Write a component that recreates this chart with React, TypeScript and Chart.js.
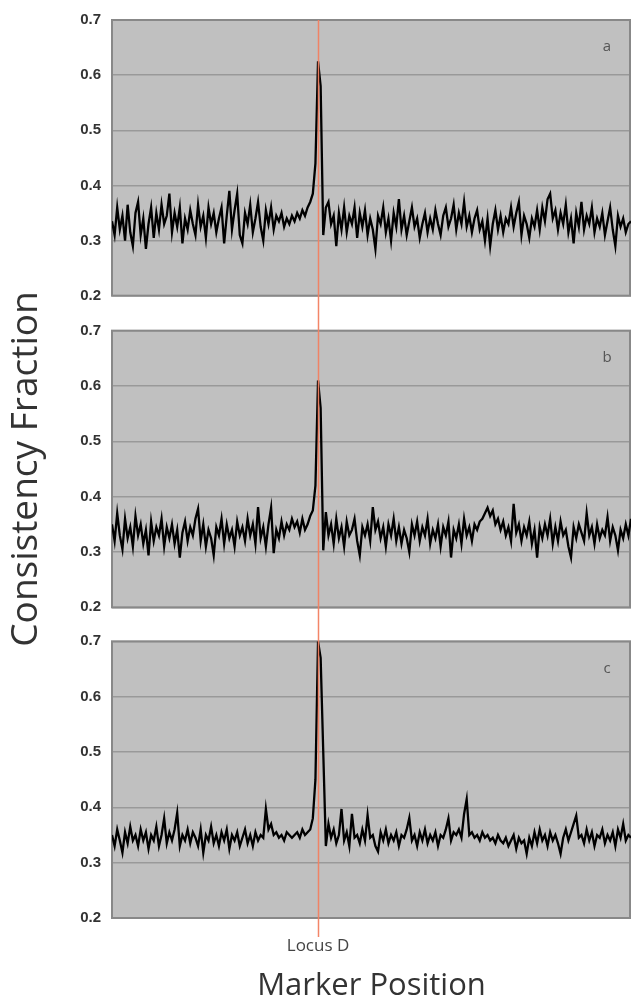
import React, { useEffect, useRef } from "react";
import { Chart, registerables } from "chart.js";

Chart.register(...registerables);

// ---- data -------------------------------------------------------------
const markerPositions: number[] = Array.from({ length: 200 }, (_, i) => i);
const locusIndex = 79;
const locusLabel = "Locus D";
const panelLetters = ["a", "b", "c"];
const yTickStep = 0.1;
const yMin = 0.2;
const yMax = 0.7;

const seriesA: number[] = [
  0.335, 0.31, 0.36, 0.32, 0.345, 0.30, 0.365, 0.315, 0.29, 0.35,
  0.37, 0.31, 0.34, 0.285, 0.33, 0.36, 0.305, 0.35, 0.32, 0.365,
  0.33, 0.345, 0.385, 0.315, 0.35, 0.325, 0.36, 0.295, 0.34, 0.32,
  0.355, 0.33, 0.31, 0.365, 0.325, 0.345, 0.305, 0.36, 0.33, 0.35,
  0.315, 0.34, 0.36, 0.295, 0.345, 0.39, 0.32, 0.355, 0.385, 0.31,
  0.295, 0.35, 0.33, 0.365, 0.315, 0.34, 0.37, 0.325, 0.30, 0.355,
  0.33, 0.36, 0.32, 0.345, 0.335, 0.35, 0.325, 0.34, 0.33, 0.345,
  0.335, 0.35, 0.34, 0.355, 0.345, 0.36, 0.37, 0.385, 0.44, 0.625,
  0.58, 0.31, 0.36, 0.37, 0.33, 0.345, 0.29, 0.35, 0.32, 0.36,
  0.315, 0.345, 0.33, 0.36, 0.305, 0.35, 0.325, 0.355, 0.31, 0.34,
  0.32, 0.285, 0.345, 0.33, 0.36, 0.315, 0.34, 0.30, 0.35, 0.325,
  0.375, 0.32, 0.345, 0.31, 0.335, 0.36, 0.325, 0.34, 0.305, 0.33,
  0.35, 0.315, 0.34, 0.32, 0.355, 0.33, 0.31, 0.345, 0.36, 0.325,
  0.34, 0.365, 0.32, 0.35, 0.33, 0.37, 0.325, 0.345, 0.315, 0.34,
  0.355, 0.32, 0.335, 0.30, 0.34, 0.29, 0.33, 0.355, 0.32, 0.345,
  0.315, 0.34, 0.33, 0.36, 0.325, 0.35, 0.37, 0.31, 0.345, 0.33,
  0.305, 0.34, 0.325, 0.355, 0.32, 0.36, 0.335, 0.375, 0.385, 0.34,
  0.355, 0.32, 0.35, 0.33, 0.365, 0.315, 0.34, 0.295, 0.35, 0.325,
  0.37, 0.32, 0.345, 0.33, 0.36, 0.315, 0.34, 0.325, 0.35, 0.31,
  0.335, 0.36, 0.32, 0.29, 0.345, 0.325, 0.34, 0.315, 0.33, 0.335,
];

const seriesB: number[] = [
  0.35, 0.32, 0.37, 0.33, 0.305, 0.36, 0.325, 0.345, 0.31, 0.365,
  0.33, 0.35, 0.315, 0.34, 0.294, 0.355, 0.32, 0.345, 0.33, 0.36,
  0.31, 0.345, 0.325, 0.35, 0.315, 0.34, 0.29, 0.335, 0.355, 0.32,
  0.345, 0.33, 0.36, 0.378, 0.32, 0.35, 0.31, 0.34, 0.325, 0.294,
  0.345, 0.33, 0.36, 0.315, 0.35, 0.325, 0.34, 0.31, 0.355, 0.33,
  0.345, 0.32, 0.36, 0.33, 0.35, 0.315, 0.381, 0.325, 0.345, 0.31,
  0.35, 0.38, 0.298, 0.34, 0.325, 0.355, 0.33, 0.35, 0.34, 0.36,
  0.345, 0.355, 0.335, 0.36, 0.34, 0.35, 0.365, 0.375, 0.42, 0.61,
  0.56, 0.303, 0.372, 0.33, 0.35, 0.315, 0.36, 0.325, 0.345, 0.31,
  0.355, 0.33, 0.34, 0.36, 0.32, 0.294, 0.345, 0.33, 0.35, 0.32,
  0.381, 0.34, 0.355, 0.325, 0.345, 0.31, 0.35, 0.33, 0.36, 0.32,
  0.345, 0.315, 0.34, 0.325, 0.30, 0.35, 0.33, 0.355, 0.32, 0.345,
  0.33, 0.36, 0.315, 0.34, 0.325, 0.35, 0.31, 0.345, 0.33, 0.355,
  0.29, 0.34, 0.325, 0.35, 0.315, 0.36, 0.33, 0.345, 0.32, 0.35,
  0.34, 0.355, 0.36, 0.37, 0.38, 0.365, 0.375, 0.35, 0.36, 0.34,
  0.355, 0.33, 0.345, 0.32, 0.387, 0.335, 0.35, 0.32, 0.345, 0.33,
  0.355, 0.315, 0.34, 0.29, 0.345, 0.325, 0.35, 0.33, 0.36, 0.315,
  0.345, 0.32, 0.355, 0.33, 0.34, 0.31, 0.29, 0.345, 0.325, 0.35,
  0.335, 0.32, 0.37, 0.33, 0.345, 0.315, 0.35, 0.325, 0.34, 0.33,
  0.363, 0.32, 0.345, 0.33, 0.303, 0.34, 0.325, 0.35, 0.33, 0.36,
];

const seriesC: number[] = [
  0.35, 0.33, 0.36, 0.34, 0.318, 0.355, 0.335, 0.365, 0.34, 0.35,
  0.33, 0.36, 0.34, 0.355, 0.325, 0.35, 0.34, 0.365, 0.33, 0.35,
  0.38, 0.335, 0.355, 0.34, 0.36, 0.39, 0.33, 0.35, 0.34, 0.36,
  0.335, 0.355, 0.345, 0.33, 0.36, 0.318, 0.35, 0.34, 0.365, 0.335,
  0.35, 0.33, 0.355, 0.34, 0.36, 0.325, 0.35, 0.34, 0.355, 0.33,
  0.345, 0.36, 0.335, 0.35, 0.33, 0.355, 0.34, 0.35, 0.345, 0.397,
  0.36, 0.37, 0.35, 0.355, 0.345, 0.35, 0.34, 0.355, 0.35, 0.345,
  0.35, 0.355, 0.345, 0.36, 0.35, 0.355, 0.36, 0.38, 0.45, 0.70,
  0.67, 0.50, 0.33, 0.37, 0.345, 0.36, 0.335, 0.35, 0.397, 0.34,
  0.355, 0.33, 0.388, 0.345, 0.35, 0.335, 0.36, 0.34, 0.386, 0.345,
  0.35, 0.33, 0.32, 0.355, 0.34, 0.36, 0.335, 0.35, 0.34, 0.355,
  0.33, 0.35, 0.345, 0.36, 0.381, 0.34, 0.35, 0.33, 0.355, 0.34,
  0.36, 0.335, 0.35, 0.34, 0.355, 0.33, 0.35, 0.345, 0.36, 0.38,
  0.34, 0.355, 0.35, 0.36, 0.345, 0.388, 0.415, 0.35, 0.355, 0.345,
  0.35, 0.34, 0.355, 0.345, 0.35, 0.34, 0.345, 0.335, 0.35, 0.34,
  0.335, 0.345, 0.33, 0.34, 0.35, 0.325, 0.345, 0.335, 0.34, 0.316,
  0.345, 0.33, 0.355, 0.335, 0.36, 0.34, 0.35, 0.33, 0.355, 0.34,
  0.35, 0.335, 0.316, 0.345, 0.36, 0.34, 0.355, 0.37, 0.385, 0.345,
  0.35, 0.335, 0.36, 0.34, 0.355, 0.33, 0.35, 0.345, 0.36, 0.335,
  0.35, 0.34, 0.355, 0.33, 0.36, 0.345, 0.37, 0.34, 0.35, 0.345,
];

const panelSeries = [seriesA, seriesB, seriesC];
const yAxisTitle = "Consistency Fraction";
const xAxisTitle = "Marker Position";

// ---- styling ----------------------------------------------------------
const W = 632;
const H = 1002;
const FONT = "'Open Sans', 'DejaVu Sans', sans-serif";
const TICK_FONT = "'Liberation Sans', Arial, sans-serif";
const PANEL_IDS = ["yA", "yB", "yC"];
const PLOT_BG = "#c0c0c0";
const GRID = "#999999";
const BORDER = "#888888";
const LOCUS = "rgba(242,128,96,0.95)";

export default function App() {
  const ref = useRef<HTMLCanvasElement>(null);

  useEffect(() => {
    const canvas = ref.current;
    if (!canvas) return;

    const panelsPlugin = {
      id: "panelsPlugin",
      beforeDraw(chart: any) {
        const { ctx, chartArea } = chart;
        ctx.save();
        ctx.fillStyle = PLOT_BG;
        for (const id of PANEL_IDS) {
          const s = chart.scales[id];
          ctx.fillRect(chartArea.left, s.top, chartArea.right - chartArea.left, s.bottom - s.top);
        }
        ctx.restore();
      },
      beforeDatasetsDraw(chart: any) {
        const { ctx, chartArea } = chart;
        ctx.save();
        ctx.strokeStyle = BORDER;
        ctx.lineWidth = 2;
        for (const id of PANEL_IDS) {
          const s = chart.scales[id];
          ctx.strokeRect(chartArea.left, s.top, chartArea.right - chartArea.left - 1, s.bottom - s.top);
        }
        ctx.restore();
      },
      afterDatasetsDraw(chart: any) {
        const { ctx, chartArea } = chart;
        const xs = chart.scales.x;
        const px = Math.round(xs.getPixelForValue(locusIndex)) + 0.5;
        ctx.save();
        ctx.strokeStyle = LOCUS;
        ctx.lineWidth = 1.5;
        ctx.beginPath();
        ctx.moveTo(px, chart.scales.yA.top);
        ctx.lineTo(px, chartArea.bottom + 19);
        ctx.stroke();
        ctx.fillStyle = "#555";
        ctx.font = `15px ${FONT}`;
        ctx.textAlign = "center";
        ctx.textBaseline = "middle";
        PANEL_IDS.forEach((id, i) => {
          const s = chart.scales[id];
          ctx.fillText(panelLetters[i], chartArea.right - 24, s.top + 27);
        });
        ctx.restore();
      },
    };

    const panelAxis = (weight: number, stackWeight: number, showTitle: boolean) => ({
      type: "linear",
      position: "left",
      stack: "panels",
      stackWeight,
      weight,
      min: yMin,
      max: yMax,
      afterFit: (s: any) => {
        s.width = 112;
      },
      grid: { color: GRID, lineWidth: 1.5, drawTicks: false, tickLength: 0 },
      border: { display: false },
      ticks: {
        stepSize: yTickStep,
        padding: 11,
        color: "#333",
        font: { family: TICK_FONT, size: 15, weight: "bold" },
        callback: (v: any) => Number(v).toFixed(1),
      },
      title: {
        display: showTitle,
        text: yAxisTitle,
        color: "#333",
        font: { family: FONT, size: 37 },
        padding: { top: 4, bottom: 0 },
      },
    });

    const gapAxis = (weight: number, stackWeight: number) => ({
      type: "linear",
      position: "left",
      stack: "panels",
      stackWeight,
      weight,
      display: false,
      min: 0,
      max: 1,
    });

    const chart = new Chart(canvas, {
      type: "line",
      data: {
        labels: markerPositions,
        datasets: panelSeries.map((d, i) => ({
          data: d,
          yAxisID: PANEL_IDS[i],
          borderColor: "#000",
          borderWidth: 2.3,
          borderJoinStyle: "miter",
          pointRadius: 0,
          tension: 0,
          fill: false,
        })),
      },
      options: {
        responsive: false,
        animation: false,
        events: [],
        layout: { padding: { top: 19, right: 1, left: 0, bottom: 0 } },
        plugins: { legend: { display: false }, tooltip: { enabled: false } },
        scales: {
          x: {
            type: "linear",
            position: "bottom",
            min: 0,
            max: markerPositions.length - 1,
            afterFit: (s: any) => {
              s.height = 84;
            },
            afterBuildTicks: (s: any) => {
              s.ticks = [{ value: locusIndex }];
            },
            grid: { display: false, drawTicks: false, tickLength: 0 },
            border: { display: false },
            ticks: {
              padding: 18,
              maxRotation: 0,
              color: "#444",
              font: { family: FONT, size: 17 },
              callback: () => locusLabel,
            },
            title: {
              display: true,
              text: xAxisTitle,
              color: "#333",
              font: { family: FONT, size: 31, lineHeight: 1.05 },
              padding: { top: 0, bottom: 0 },
            },
          },
          yA: panelAxis(5, 276, false),
          g1: gapAxis(4, 35),
          yB: panelAxis(3, 277, true),
          g2: gapAxis(2, 34),
          yC: panelAxis(1, 277, false),
        } as any,
      },
      plugins: [panelsPlugin],
    } as any);

    return () => chart.destroy();
  }, []);

  return (
    <div style={{ position: "absolute", left: 0, top: 0, width: W, height: H, background: "#fff" }}>
      <canvas ref={ref} width={W} height={H} style={{ display: "block", width: W, height: H }} />
    </div>
  );
}
